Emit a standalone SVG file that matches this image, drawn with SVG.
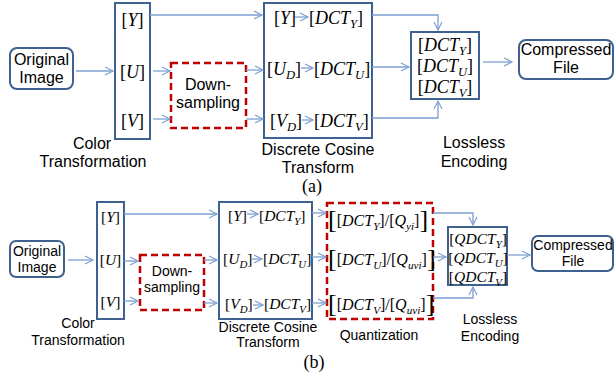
<svg xmlns="http://www.w3.org/2000/svg" width="615" height="377" viewBox="0 0 615 377">
<style>
.lbl{font-family:"Liberation Sans",Arial,sans-serif;fill:#000;text-anchor:middle}
.a16{font-size:16px}
.a14{font-size:14px}
.m{font-family:"Liberation Serif","Times New Roman",serif;fill:#000}
.m17{font-size:18px}
.m15{font-size:15.5px}
.m16{font-size:16px}
.mid{text-anchor:middle}
.i{font-style:italic}
.s{font-size:70%;font-style:italic}
.big{font-size:26px}
.box{fill:#fff;stroke:#3e6190;stroke-width:2}
.dash{fill:#fff;stroke:#c00000;stroke-width:2.5;stroke-dasharray:7 4}
.arr{fill:none;stroke:#7e9fd2;stroke-width:1.3;marker-end:url(#ah)}
.cap{font-family:"Liberation Serif","Times New Roman",serif;font-size:18px;fill:#000;text-anchor:middle}
</style>
<defs>
<marker id="ah" markerUnits="userSpaceOnUse" markerWidth="10" markerHeight="10" refX="8" refY="4" orient="auto" overflow="visible">
<path d="M0,0 L8,4 L0,8" fill="none" stroke="#7e9fd2" stroke-width="1.2"/>
</marker>
</defs>
<rect width="615" height="377" fill="#fff"/>

<!-- (a) nodes -->
<g id="a-original">
<rect x="10" y="48" width="63" height="41" rx="7" class="box"/>
<text class="lbl a16" x="41.5" y="65">Original</text>
<text class="lbl a16" x="41.5" y="83">Image</text>
</g>
<g id="a-color">
<rect x="115" y="3" width="35" height="136" class="box"/>
<text class="m m17 mid" x="132.5" y="26">[<tspan class="i">Y</tspan>]</text>
<text class="m m17 mid" x="132.5" y="78">[<tspan class="i">U</tspan>]</text>
<text class="m m17 mid" x="132.5" y="127">[<tspan class="i">V</tspan>]</text>
<text class="lbl a16" x="92" y="149">Color</text>
<text class="lbl a16" x="93" y="167">Transformation</text>
</g>
<g id="a-down">
<rect x="171" y="63" width="75" height="65" class="dash"/>
<text class="lbl a16" x="208" y="90">Down-</text>
<text class="lbl a16" x="208" y="108">sampling</text>
</g>
<g id="a-dct">
<rect x="264" y="3" width="108" height="135" class="box"/>
<text class="m m17" x="274" y="24">[<tspan class="i">Y</tspan>]</text>
<text class="m m17" x="309" y="24">[<tspan class="i">DCT</tspan><tspan class="s" dy="4">Y</tspan><tspan dy="-4">]</tspan></text>
<text class="m m17" x="267" y="75">[<tspan class="i">U</tspan><tspan class="s" dy="4">D</tspan><tspan dy="-4">]</tspan></text>
<text class="m m17" x="314" y="75">[<tspan class="i">DCT</tspan><tspan class="s" dy="4">U</tspan><tspan dy="-4">]</tspan></text>
<text class="m m17" x="270" y="127">[<tspan class="i">V</tspan><tspan class="s" dy="4">D</tspan><tspan dy="-4">]</tspan></text>
<text class="m m17" x="314" y="127">[<tspan class="i">DCT</tspan><tspan class="s" dy="4">V</tspan><tspan dy="-4">]</tspan></text>
<text class="lbl a16" x="318" y="155">Discrete Cosine</text>
<text class="lbl a16" x="318" y="173">Transform</text>
</g>
<g id="a-lossless">
<rect x="411" y="32" width="68" height="67" class="box"/>
<text class="m m17 mid" x="445" y="51">[<tspan class="i">DCT</tspan><tspan class="s" dy="4">Y</tspan><tspan dy="-4">]</tspan></text>
<text class="m m17 mid" x="445" y="72">[<tspan class="i">DCT</tspan><tspan class="s" dy="4">U</tspan><tspan dy="-4">]</tspan></text>
<text class="m m17 mid" x="445" y="93">[<tspan class="i">DCT</tspan><tspan class="s" dy="4">V</tspan><tspan dy="-4">]</tspan></text>
<text class="lbl a16" x="474" y="148">Lossless</text>
<text class="lbl a16" x="474" y="167">Encoding</text>
</g>
<g id="a-compressed">
<rect x="519" y="40" width="94" height="39" rx="7" class="box"/>
<text class="lbl a16" x="566" y="55">Compressed</text>
<text class="lbl a16" x="566" y="73">File</text>
</g>
<text class="cap" x="312" y="192">(a)</text>

<!-- (b) nodes -->
<g id="b-original">
<rect x="10" y="241" width="54" height="36" rx="6" class="box"/>
<text class="lbl a14" x="37" y="256">Original</text>
<text class="lbl a14" x="37" y="272">Image</text>
</g>
<g id="b-color">
<rect x="97" y="202" width="27" height="117" class="box"/>
<text class="m m15 mid" x="110.5" y="222">[<tspan class="i">Y</tspan>]</text>
<text class="m m15 mid" x="110.5" y="265">[<tspan class="i">U</tspan>]</text>
<text class="m m15 mid" x="110.5" y="307">[<tspan class="i">V</tspan>]</text>
<text class="lbl a14" x="78" y="328">Color</text>
<text class="lbl a14" x="78" y="345">Transformation</text>
</g>
<g id="b-down">
<rect x="140" y="255" width="64" height="55" class="dash"/>
<text class="lbl a14" x="172" y="276">Down-</text>
<text class="lbl a14" x="172" y="292">sampling</text>
</g>
<g id="b-dct">
<rect x="219" y="202" width="93" height="117" class="box"/>
<text class="m m15" x="228" y="221">[<tspan class="i">Y</tspan>]</text>
<text class="m m15" x="259" y="221">[<tspan class="i">DCT</tspan><tspan class="s" dy="4">Y</tspan><tspan dy="-4">]</tspan></text>
<text class="m m15" x="223" y="264">[<tspan class="i">U</tspan><tspan class="s" dy="4">D</tspan><tspan dy="-4">]</tspan></text>
<text class="m m15" x="263" y="264">[<tspan class="i">DCT</tspan><tspan class="s" dy="4">U</tspan><tspan dy="-4">]</tspan></text>
<text class="m m15" x="225" y="309">[<tspan class="i">V</tspan><tspan class="s" dy="4">D</tspan><tspan dy="-4">]</tspan></text>
<text class="m m15" x="264" y="309">[<tspan class="i">DCT</tspan><tspan class="s" dy="4">V</tspan><tspan dy="-4">]</tspan></text>
<text class="lbl a14" x="268" y="332">Discrete Cosine</text>
<text class="lbl a14" x="268" y="347">Transform</text>
</g>
<g id="b-quant">
<rect x="327" y="203" width="106" height="116" class="dash"/>
<text class="m m16" x="328" y="226"><tspan class="big" dy="2">[</tspan><tspan dy="-2">[</tspan><tspan class="i">DCT</tspan><tspan class="s" dy="4">Y</tspan><tspan dy="-4">]/[</tspan><tspan class="i">Q</tspan><tspan class="s" dy="4">yi</tspan><tspan dy="-4">]</tspan><tspan class="big" dy="2">]</tspan></text>
<text class="m m16" x="328" y="265"><tspan class="big" dy="2">[</tspan><tspan dy="-2">[</tspan><tspan class="i">DCT</tspan><tspan class="s" dy="4">U</tspan><tspan dy="-4">]/[</tspan><tspan class="i">Q</tspan><tspan class="s" dy="4">uvi</tspan><tspan dy="-4">]</tspan><tspan class="big" dy="2">]</tspan></text>
<text class="m m16" x="328" y="310"><tspan class="big" dy="2">[</tspan><tspan dy="-2">[</tspan><tspan class="i">DCT</tspan><tspan class="s" dy="4">V</tspan><tspan dy="-4">]/[</tspan><tspan class="i">Q</tspan><tspan class="s" dy="4">uvi</tspan><tspan dy="-4">]</tspan><tspan class="big" dy="2">]</tspan></text>
<text class="lbl a14" x="379" y="340">Quantization</text>
</g>
<g id="b-lossless">
<rect x="448" y="227" width="59" height="58" class="box"/>
<text class="m m15 mid" x="478" y="244">[<tspan class="i">QDCT</tspan><tspan class="s" dy="4">Y</tspan><tspan dy="-4">]</tspan></text>
<text class="m m15 mid" x="478" y="263">[<tspan class="i">QDCT</tspan><tspan class="s" dy="4">U</tspan><tspan dy="-4">]</tspan></text>
<text class="m m15 mid" x="478" y="282">[<tspan class="i">QDCT</tspan><tspan class="s" dy="4">V</tspan><tspan dy="-4">]</tspan></text>
<text class="lbl a14" x="490" y="324">Lossless</text>
<text class="lbl a14" x="490" y="341">Encoding</text>
</g>
<g id="b-compressed">
<rect x="532" y="236" width="81" height="35" rx="6" class="box"/>
<text class="lbl a14" x="573" y="250">Compressed</text>
<text class="lbl a14" x="573" y="266">File</text>
</g>
<text class="cap" x="314" y="368">(b)</text>

<!-- connectors -->
<g id="connectors">
<!-- (a) -->
<line class="arr" x1="76" y1="71" x2="113" y2="71"/>
<line class="arr" x1="150" y1="15" x2="262" y2="15"/>
<line class="arr" x1="153" y1="71" x2="170" y2="71"/>
<line class="arr" x1="153" y1="119" x2="170" y2="119"/>
<line class="arr" x1="246" y1="70" x2="263" y2="70"/>
<line class="arr" x1="246" y1="119" x2="263" y2="119"/>
<line class="arr" x1="295" y1="17" x2="308" y2="17"/>
<line class="arr" x1="301" y1="68" x2="313" y2="68"/>
<line class="arr" x1="302" y1="120" x2="313" y2="120"/>
<polyline class="arr" points="372,15 438,15 438,30"/>
<line class="arr" x1="372" y1="67" x2="409" y2="67"/>
<polyline class="arr" points="372,118 438,118 438,101"/>
<line class="arr" x1="483" y1="62" x2="512" y2="62"/>
<!-- (b) -->
<line class="arr" x1="68" y1="260" x2="93" y2="260"/>
<line class="arr" x1="124" y1="214" x2="217" y2="214"/>
<line class="arr" x1="124" y1="261" x2="138" y2="261"/>
<line class="arr" x1="124" y1="301" x2="138" y2="301"/>
<line class="arr" x1="204" y1="260" x2="217" y2="260"/>
<line class="arr" x1="204" y1="303" x2="217" y2="303"/>
<line class="arr" x1="247" y1="214" x2="258" y2="214"/>
<line class="arr" x1="252" y1="259" x2="262" y2="259"/>
<line class="arr" x1="253" y1="305" x2="263" y2="305"/>
<line class="arr" x1="312" y1="213" x2="326" y2="213"/>
<line class="arr" x1="312" y1="257" x2="326" y2="257"/>
<line class="arr" x1="312" y1="303" x2="326" y2="303"/>
<polyline class="arr" points="433,213 473,213 473,225"/>
<line class="arr" x1="433" y1="257" x2="446" y2="257"/>
<polyline class="arr" points="433,298 473,298 473,287"/>
<line class="arr" x1="507" y1="255" x2="530" y2="255"/>
</g>
</svg>
